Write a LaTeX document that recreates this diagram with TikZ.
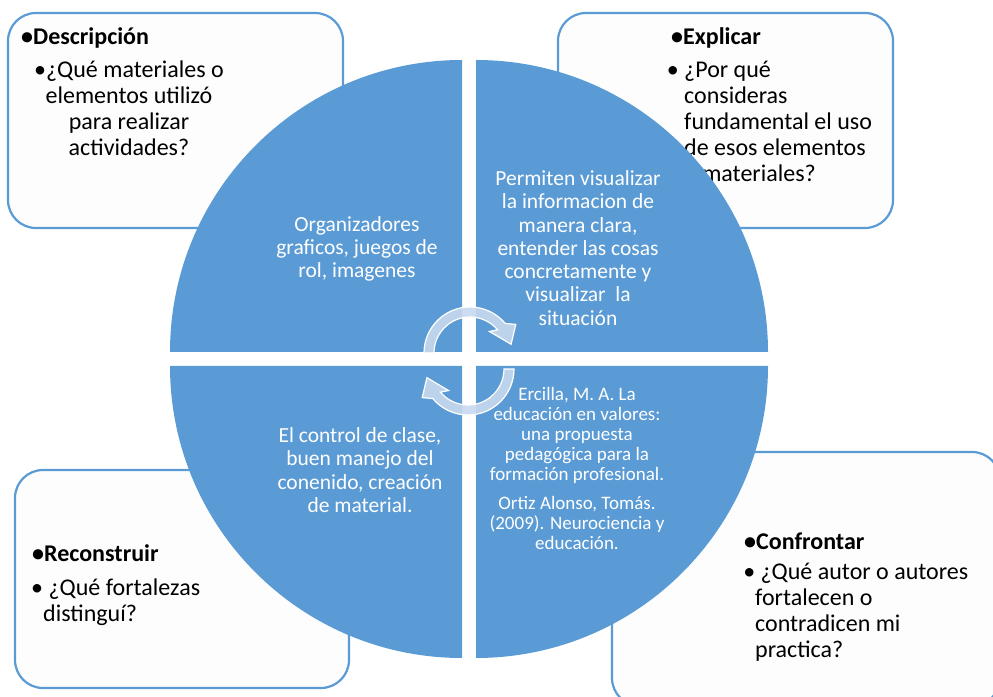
\documentclass[tikz,border=0pt]{standalone}
\usepackage{fontspec}
\setmainfont{Carlito}
\usetikzlibrary{calc,positioning,shapes}
\definecolor{accent}{HTML}{5B9BD5}
\definecolor{pale}{HTML}{C8D8EE}
\definecolor{paper}{HTML}{FDFDFD}
\tikzset{
  marco/.style={
    rectangle,
    rounded corners=28pt,
    draw=accent, line width=2.2pt,
    fill=paper,
    inner sep=0pt},
  titulo/.style={anchor=west, inner sep=0pt,
    font=\fontsize{24}{26}\selectfont\bfseries},
  pregunta/.style={inner sep=0pt,
    font=\fontsize{24}{26}\selectfont},
  cuarto/.style={fill=accent, draw=none},
  dentro/.style={text=white, align=center, inner sep=0pt,
    font=\fontsize{21.5}{23.3}\selectfont},
  flecha/.style={fill=pale, fill opacity=0.9, draw=white, line width=1.2pt},
}

\begin{document}
\begin{tikzpicture}[x=1pt,y=1pt]
  \useasboundingbox (0,0) rectangle (993,696);
  \clip (0,0) rectangle (993,696);

  % cajas
  \node[marco, minimum width=335pt, minimum height=215pt] (Descripcion) at (175.5,575.5) {};
  \node[marco, minimum width=335pt, minimum height=215pt] (Explicar) at (725.5,575.5) {};
  \node[marco, minimum width=334pt, minimum height=218pt] (Reconstruir) at (182,117) {};
  \node[marco, minimum width=388pt, minimum height=254pt] (Confrontar) at (806,117) {};

  \node[titulo] (DescripcionT) at (21,658) {•Descripción};
  \node[pregunta, align=center] (DescripcionP) at (129,588)
    {•¿Qué materiales o\\elementos utilizó\\para realizar\\actividades?};
  \node[titulo] (ExplicarT) at (671,658) {•Explicar};
  \node[pregunta, align=left, anchor=west] (ExplicarP) at (684,574.5)
    {\llap{•\ }¿Por qué\\consideras\\fundamental el uso\\de esos elementos\\o materiales?};
  \node[titulo] (ReconstruirT) at (32,143) {•Reconstruir};
  \node[pregunta, align=left, anchor=west] (ReconstruirP) at (43,93.5)
    {\llap{•}\ ¿Qué fortalezas\\distinguí?};
  \node[titulo] (ConfrontarT) at (744,155) {•Confrontar};
  \node[pregunta, align=left, anchor=west] (ConfrontarP) at (755,84)
    {\llap{•}\ ¿Qué autor o autores\\fortalecen o\\contradicen mi\\practica?};

  % circulo
  \coordinate (NO) at (462,344);
  \coordinate (NE) at (476,344);
  \coordinate (SO) at (462,330);
  \coordinate (SE) at (476,330);
  \fill[cuarto] (NO) -- ++(-292,0) arc[start angle=180,end angle=90,radius=292] -- cycle;
  \fill[cuarto] (NE) -- ++(0,292) arc[start angle=90,end angle=0,radius=292] -- cycle;
  \fill[cuarto] (SO) -- ++(-292,0) arc[start angle=180,end angle=270,radius=292] -- cycle;
  \fill[cuarto] (SE) -- ++(292,0) arc[start angle=0,end angle=-90,radius=292] -- cycle;

  \node[dentro] (Organizadores) at (357,447)
    {Organizadores\\graficos, juegos de\\rol, imagenes};
  \node[dentro] (Permiten) at (578,448)
    {Permiten visualizar\\la informacion de\\manera clara,\\entender las cosas\\concretamente y\\visualizar\ \ la\\situación};
  \node[dentro] (Control) at (360,226)
    {El control de clase,\\buen manejo del\\conenido, creación\\de material.};
  \node[dentro, font=\fontsize{19}{20}\selectfont] (Ercilla) at (577,228)
    {Ercilla, M. A. La\\educación en valores:\\una propuesta\\pedagógica para la\\formación profesional.\\[9pt]Ortiz Alonso, Tomás.\\(2009). Neurociencia y\\educación.};

  % flechas de giro
  \coordinate (GiroA) at (470,343);
  \coordinate (GiroB) at (468,327);
  \filldraw[flecha] ($(GiroA)+(180:46)$) arc[start angle=180,end angle=40,radius=46]
    -- ($(GiroA)+(32:54)$) -- ($(GiroA)+(12:42)$) -- ($(GiroA)+(48:29)$)
    -- ($(GiroA)+(40:36)$) arc[start angle=40,end angle=180,radius=36] -- cycle;
  \filldraw[flecha] ($(GiroB)+(0:46)$) arc[start angle=0,end angle=-140,radius=46]
    -- ($(GiroB)+(-148:54)$) -- ($(GiroB)+(-168:42)$) -- ($(GiroB)+(-132:29)$)
    -- ($(GiroB)+(-140:36)$) arc[start angle=-140,end angle=0,radius=36] -- cycle;
\end{tikzpicture}
\end{document}
